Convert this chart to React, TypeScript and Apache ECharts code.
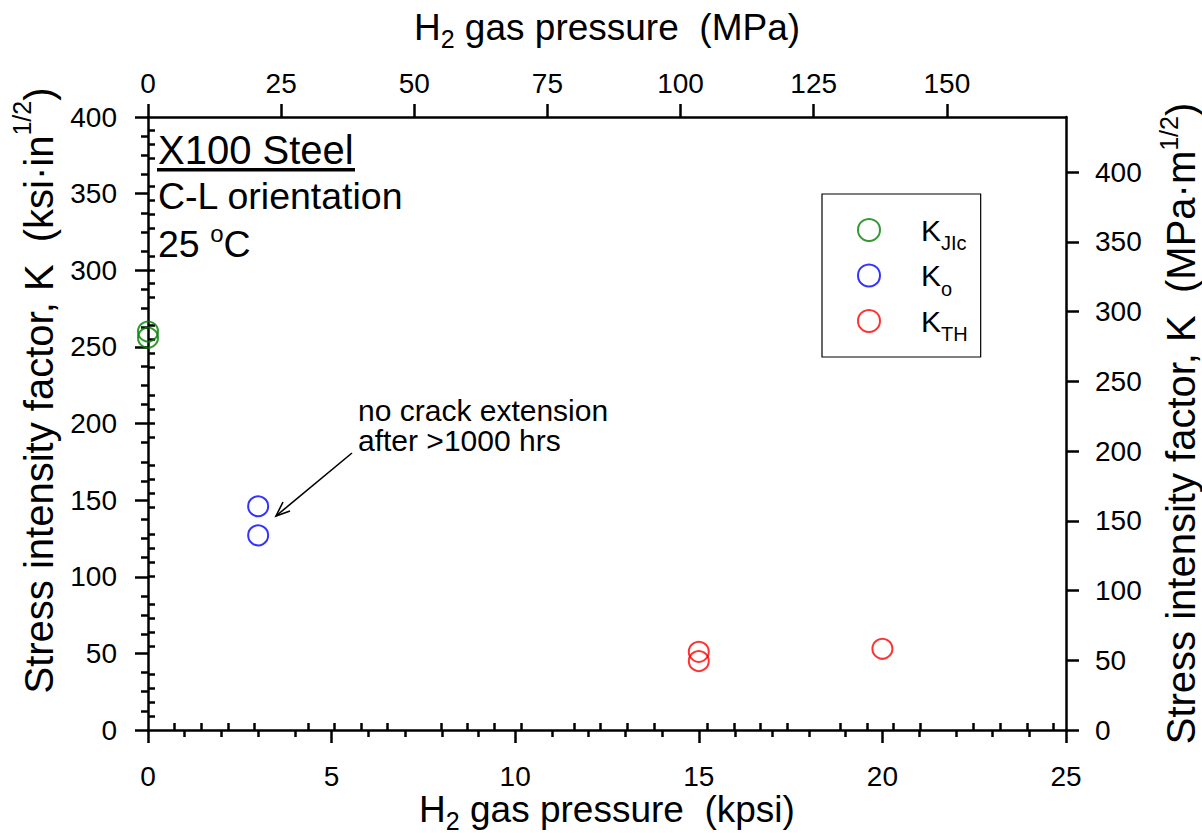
import React, { useEffect, useRef } from 'react';
import * as echarts from 'echarts';

// unit conversions for the secondary axes
const KPSI_TO_MPA = 6.894757;
const KSI_IN_TO_MPA_M = 1.098843;

// data
const seriesNames = ['K_JIc', 'K_o', 'K_TH'];
const seriesColors = ['#008000', '#0000ff', '#ff0000'];
const kjicPressure = [0, 0];
const kjicValues = [260, 256];
const koPressure = [3, 3];
const koValues = [146, 127];
const kthPressure = [15, 15, 20];
const kthValues = [51, 45, 53];

// axes
const kpsiMin = 0;
const kpsiMax = 25;
const kpsiInterval = 5;
const ksiMin = 0;
const ksiMax = 400;
const ksiInterval = 50;
const topMajorTicks = [0, 25, 50, 75, 100, 125, 150];
const topMinorTicks = [5, 10, 15, 20, 30, 35, 40, 45, 55, 60, 65, 70, 80, 85, 90, 95, 105, 110, 115, 120, 130, 135, 140, 145, 155, 160, 165, 170];
const rightMajorTicks = [0, 50, 100, 150, 200, 250, 300, 350, 400];
const rightMinorTicks = [10, 20, 30, 40, 60, 70, 80, 90, 110, 120, 130, 140, 160, 170, 180, 190, 210, 220, 230, 240, 260, 270, 280, 290, 310, 320, 330, 340, 360, 370, 380, 390, 410, 420, 430];

const FONT = "'Liberation Sans', Arial, Helvetica, sans-serif";
const BLACK = '#000';

const zip = (xs: number[], ys: number[]) => xs.map((x, i) => [x, ys[i]]);

const axisLineStyle = { show: true, onZero: false, lineStyle: { color: BLACK, width: 2.5 } };
const majorTick = { show: true, inside: false, length: 13, lineStyle: { color: BLACK, width: 2.5 } };
const minorTickStyle = { show: true, inside: false, length: 7, lineStyle: { color: BLACK, width: 2.5 } };
const labelStyle = { color: BLACK, fontSize: 28, fontFamily: FONT };
const xLabelStyle = { ...labelStyle, lineHeight: 22 };

const titleRichSub = {
  t: { fontSize: 37, lineHeight: 48, fontFamily: FONT, color: BLACK },
  sub: { fontSize: 25, lineHeight: 18, verticalAlign: 'bottom', fontFamily: FONT, color: BLACK },
};
const leftTitleRich = {
  t: { fontSize: 40, lineHeight: 60, fontFamily: FONT, color: BLACK },
  sup: { fontSize: 25, lineHeight: 20, verticalAlign: 'top', fontFamily: FONT, color: BLACK },
};
const rightTitleRich = {
  t: { fontSize: 40, lineHeight: 50, fontFamily: FONT, color: BLACK },
  sup: { fontSize: 25, lineHeight: 20, verticalAlign: 'top', fontFamily: FONT, color: BLACK },
};

function buildOption() {
  const mpaMax = kpsiMax * KPSI_TO_MPA;
  const mpamMax = ksiMax * KSI_IN_TO_MPA_M;
  const pressures = [kjicPressure, koPressure, kthPressure];
  const values = [kjicValues, koValues, kthValues];
  return {
    animation: false,
    backgroundColor: '#fff',
    grid: { left: 148, top: 117, right: 136, bottom: 103, containLabel: false, outerBoundsMode: 'none' },
    xAxis: [
      {
        type: 'value',
        position: 'bottom',
        min: kpsiMin,
        max: kpsiMax,
        interval: kpsiInterval,
        axisLine: axisLineStyle,
        axisTick: majorTick,
        minorTick: { ...minorTickStyle, splitNumber: 5 },
        splitLine: { show: false },
        axisLabel: { ...xLabelStyle, margin: 35 },
        name: '{t|H}{sub|2}{t| gas pressure  (kpsi)}',
        nameLocation: 'middle',
        nameGap: 55,
        nameMoveOverlap: false,
        nameTextStyle: { rich: titleRichSub },
      },
      {
        type: 'value',
        position: 'top',
        min: 0,
        max: mpaMax,
        axisLine: axisLineStyle,
        axisTick: { ...majorTick, customValues: topMajorTicks },
        splitLine: { show: false },
        axisLabel: { ...xLabelStyle, margin: 23, customValues: topMajorTicks },
        name: '{t|H}{sub|2}{t| gas pressure  (MPa)}',
        nameLocation: 'middle',
        nameGap: 66,
        nameMoveOverlap: false,
        nameTextStyle: { rich: titleRichSub },
      },
      {
        type: 'value',
        position: 'top',
        min: 0,
        max: mpaMax,
        axisLine: { show: false },
        axisTick: { ...minorTickStyle, customValues: topMinorTicks },
        splitLine: { show: false },
        axisLabel: { show: false },
      },
    ],
    yAxis: [
      {
        type: 'value',
        position: 'left',
        min: ksiMin,
        max: ksiMax,
        interval: ksiInterval,
        axisLine: axisLineStyle,
        axisTick: majorTick,
        minorTick: { ...minorTickStyle, splitNumber: 4 },
        splitLine: { show: false },
        axisLabel: { ...labelStyle, margin: 31 },
        name: '{t|Stress intensity factor, K  (ksi·in}{sup|1/2}{t|)}',
        nameLocation: 'middle',
        nameRotate: 90,
        nameGap: 79,
        nameMoveOverlap: false,
        nameTextStyle: { rich: leftTitleRich, padding: [0, 0, 0, 66] },
      },
      {
        type: 'value',
        position: 'right',
        min: 0,
        max: mpamMax,
        axisLine: axisLineStyle,
        axisTick: { ...majorTick, customValues: rightMajorTicks },
        splitLine: { show: false },
        axisLabel: { ...labelStyle, margin: 29, customValues: rightMajorTicks },
        name: '{t|Stress intensity factor, K  (MPa·m}{sup|1/2}{t|)}',
        nameLocation: 'middle',
        nameRotate: 90,
        nameGap: 90,
        nameMoveOverlap: false,
        nameTextStyle: { rich: rightTitleRich },
      },
      {
        type: 'value',
        position: 'right',
        min: 0,
        max: mpamMax,
        axisLine: { show: false },
        axisTick: { ...minorTickStyle, customValues: rightMinorTicks },
        splitLine: { show: false },
        axisLabel: { show: false },
      },
    ],
    legend: {
      orient: 'vertical',
      left: 822,
      top: 194,
      padding: [21, 13, 13, 35],
      itemGap: 7.5,
      itemWidth: 22,
      itemHeight: 22,
      borderColor: BLACK,
      borderWidth: 1.2,
      backgroundColor: '#fff',
      selectedMode: false,
      data: seriesNames,
      formatter: (name: string) => {
        const [k, s] = name.split('_');
        return `{k|${k}}{s|${s}}`;
      },
      textStyle: {
        rich: {
          k: { fontSize: 30, lineHeight: 46, padding: [0, 0, 0, 36], color: BLACK, fontFamily: FONT },
          s: { fontSize: 20, lineHeight: 20, verticalAlign: 'bottom', color: BLACK, fontFamily: FONT },
        },
      },
    },
    series: seriesNames.map((name, i) => ({
      type: 'scatter',
      name,
      xAxisIndex: 0,
      yAxisIndex: 0,
      clip: false,
      symbol: 'circle',
      symbolSize: 20,
      itemStyle: { color: 'transparent', borderColor: seriesColors[i], borderWidth: 2 },
      emphasis: { disabled: true },
      data: zip(pressures[i], values[i]),
    })),
    graphic: [
      {
        type: 'text',
        x: 158,
        y: 150,
        style: { text: 'X100 Steel', fontSize: 40, fontFamily: FONT, fill: BLACK, align: 'left', verticalAlign: 'middle' },
      },
      { type: 'rect', shape: { x: 157, y: 168, width: 198, height: 3.5 }, style: { fill: BLACK } },
      {
        type: 'text',
        x: 158,
        y: 196,
        style: { text: 'C-L orientation', fontSize: 37.5, fontFamily: FONT, fill: BLACK, align: 'left', verticalAlign: 'middle' },
      },
      {
        type: 'text',
        x: 158,
        y: 244,
        style: {
          text: '{b|25 }{s|o}{b|C}',
          align: 'left',
          verticalAlign: 'middle',
          rich: {
            b: { fontSize: 37.5, lineHeight: 46, fontFamily: FONT, fill: BLACK, color: BLACK },
            s: { fontSize: 24, lineHeight: 20, verticalAlign: 'top', fontFamily: FONT, fill: BLACK, color: BLACK },
          },
        },
      },
      {
        type: 'text',
        x: 358,
        y: 395,
        style: {
          text: 'no crack extension\nafter >1000 hrs',
          fontSize: 30,
          lineHeight: 30,
          fontFamily: FONT,
          fill: BLACK,
          align: 'left',
          verticalAlign: 'top',
        },
      },
      { type: 'line', shape: { x1: 352, y1: 453, x2: 276, y2: 516 }, style: { stroke: BLACK, lineWidth: 1.6 } },
      {
        type: 'polyline',
        shape: { points: [[283, 502], [276, 516], [290, 511]] },
        style: { stroke: BLACK, fill: null, lineWidth: 1.6 },
      },
    ],
  };
}

export default function App() {
  const ref = useRef<HTMLDivElement>(null);
  useEffect(() => {
    if (!ref.current) return;
    const chart = echarts.init(ref.current, null, { renderer: 'svg' });
    chart.setOption(buildOption() as any);
    return () => chart.dispose();
  }, []);
  return (
    <div
      ref={ref}
      style={{ position: 'fixed', left: 0, top: 0, width: 1202, height: 833, background: '#fff' }}
    />
  );
}
